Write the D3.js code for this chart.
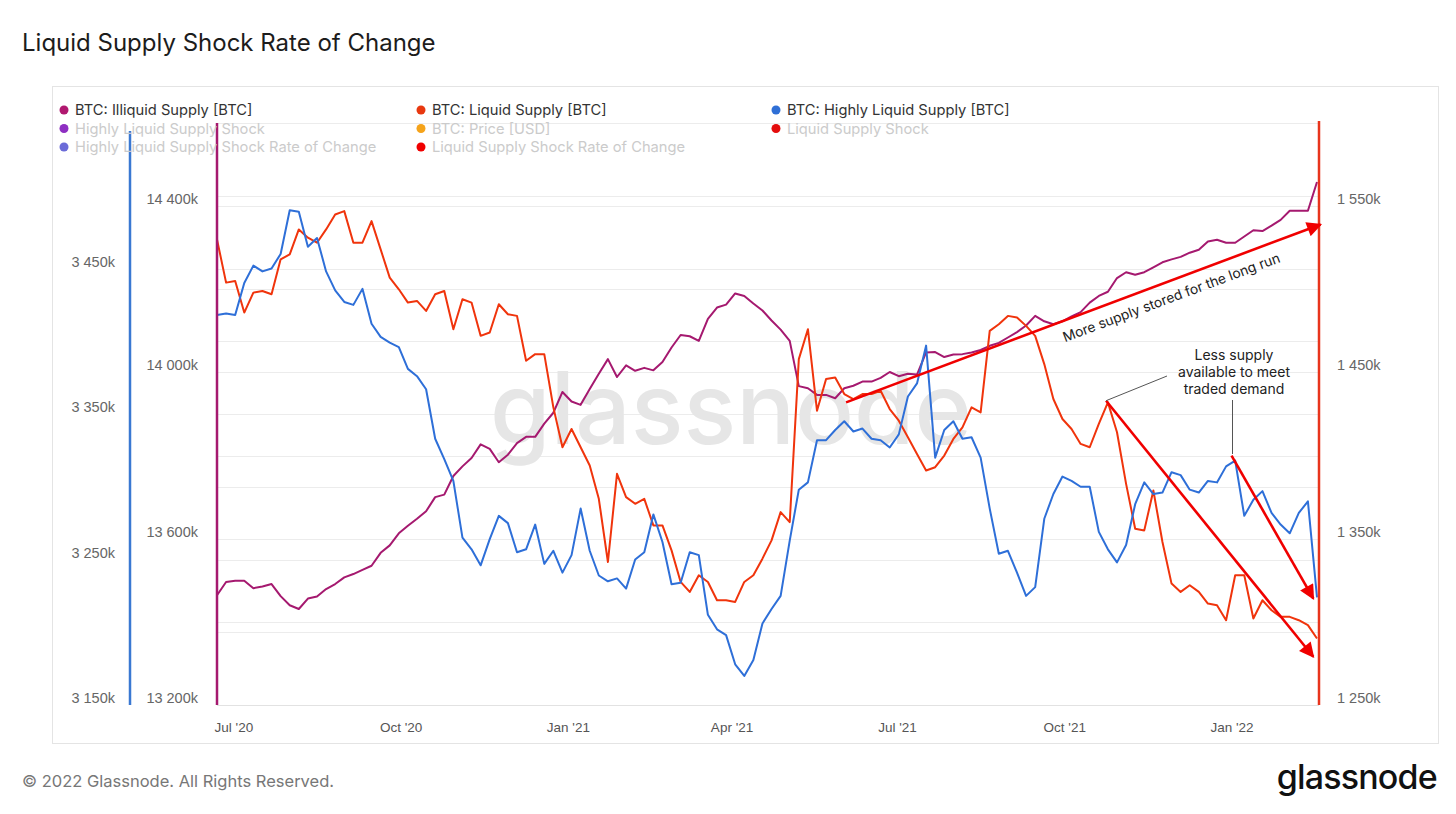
<!doctype html>
<html lang="en">
<head>
  <meta charset="utf-8">
  <title>Liquid Supply Shock Rate of Change</title>
  <script src="https://d3js.org/d3.v7.min.js"></script>
  <style>
    body { margin: 0; background: #fff; }
    svg { font-family: Inter, Roboto, "Noto Sans", sans-serif; }
  </style>
</head>
<body>
  <div id="chart"></div>
<script>
  const width = 1456;
  const height = 814;
  const plot = {left: 217, right: 1317, top: 123, bottom: 705};

  // data, one reading every 5 days starting 22 Jun 2020 (values in thousands of BTC)
  const startDate = new Date(2020, 5, 22);
  const stepDays = 5;

  const illiquid = [
    13464,13496,13499,13499,13481,13485,13491,13462,13440,13431,13456,13461,13479,13491,13507,13515,
    13525,13535,13566,13584,13613,13631,13648,13666,13700,13706,13751,13774,13794,13827,13816,
    13784,13802,13830,13845,13845,13877,13903,13953,13930,13922,13960,13997,14032,13989,14017,14004,
    14011,14005,14025,14060,14090,14087,14076,14129,14156,14163,14190,14184,14166,14149,
    14125,14103,14076,13967,13962,13946,13946,13938,13962,13968,13978,13978,13987,14001,13991,13997,
    13995,14048,14049,14037,14043,14044,14048,14054,14064,14071,14084,14097,14113,14136,
    14123,14116,14123,14135,14145,14168,14184,14194,14227,14241,14235,14241,14253,14265,14272,14278,
    14288,14295,14315,14319,14312,14312,14327,14342,14340,14353,14367,14389,14389,14389,14458
  ];
  const liquid = [
    1530,1504,1505,1486,1498,1499,1497,1518,1521,1536,1531,1528,1536,1545,1547,1528,
    1528,1541,1524,1507,1500,1492,1493,1487,1497,1499,1476,1494,1492,1472,1474,
    1491,1485,1484,1457,1461,1461,1429,1405,1416,1405,1394,1374,1336,1389,1375,1371,
    1374,1358,1358,1343,1324,1318,1328,1324,1313,1313,1312,1324,1328,1338,
    1349,1366,1360,1458,1476,1427,1446,1447,1437,1434,1437,1437,1439,1428,1421,1411,
    1401,1391,1393,1400,1410,1417,1429,1426,1475,1479,1484,1483,1478,1472,
    1455,1434,1422,1416,1407,1405,1419,1432,1414,1383,1356,1355,1379,1348,1323,1318,
    1322,1318,1311,1310,1301,1328,1328,1302,1313,1307,1303,1303,1301,1298,1290
  ];
  const highlyLiquid = [
    3418,3419,3418,3440,3452,3448,3450,3460,3490,3489,3465,3471,3448,3435,3427,3425,
    3436,3412,3403,3399,3396,3381,3376,3367,3333,3319,3304,3265,3257,3246,3264,
    3280,3275,3255,3257,3274,3247,3256,3241,3253,3285,3256,3239,3235,3237,3230,3250,
    3255,3281,3262,3233,3234,3255,3253,3212,3202,3198,3178,3170,3181,3206,
    3216,3225,3263,3298,3303,3332,3332,3339,3345,3338,3340,3333,3332,3327,3336,3362,
    3371,3397,3320,3339,3345,3333,3334,3320,3285,3254,3256,3241,3225,3231,
    3278,3295,3307,3304,3300,3300,3269,3257,3248,3260,3288,3303,3295,3296,3310,3308,
    3298,3296,3304,3303,3314,3318,3280,3291,3297,3282,3274,3268,3282,3290,3224
  ];
  const dates = illiquid.map((d, i) => d3.timeDay.offset(startDate, i * stepDays));

  // axis ticks
  const xTicks = ['2020-07-01', '2020-10-01', '2021-01-01', '2021-04-01', '2021-07-01', '2021-10-01', '2022-01-01'];
  const illiquidTicks = [13200, 13600, 14000, 14400];
  const liquidTicks = [1250, 1350, 1450, 1550];
  const highlyTicks = [3150, 3250, 3350, 3450];
  const illiquidGrid = [13400, 13600, 13800, 14000, 14200, 14400, 14600];
  const highlyGrid = [3200, 3250, 3300, 3350, 3400, 3450, 3500, 3550];

  // legend
  const legendRows = [
    [{label: 'BTC: Illiquid Supply [BTC]', color: '#b0186f', on: true},
     {label: 'BTC: Liquid Supply [BTC]', color: '#e8380f', on: true},
     {label: 'BTC: Highly Liquid Supply [BTC]', color: '#2f6fd6', on: true}],
    [{label: 'Highly Liquid Supply Shock', color: '#8e2fc2', on: false},
     {label: 'BTC: Price [USD]', color: '#f5a31a', on: false},
     {label: 'Liquid Supply Shock', color: '#e40d0d', on: false}],
    [{label: 'Highly Liquid Supply Shock Rate of Change', color: '#6b6bd8', on: false},
     {label: 'Liquid Supply Shock Rate of Change', color: '#f00000', on: false}]
  ];

  const colIlliquid = '#a5196f';
  const colLiquid = '#f0340c';
  const colHighly = '#2e6fd8';
  const colArrow = '#f00000';

  const x = d3.scaleTime()
    .domain([dates[0], dates[dates.length - 1]])
    .range([plot.left, plot.right]);
  const yIll = d3.scaleLinear().domain([13200, 14600]).range([plot.bottom, plot.top]);
  const yLiq = d3.scaleLinear().domain([1250, 1600]).range([plot.bottom, plot.top]);
  const yHigh = d3.scaleLinear().domain([3150, 3550]).range([plot.bottom, plot.top]);

  const fmtK = (v) => d3.format(',')(v).replace(/,/g, ' ') + 'k';

  const svg = d3.select('#chart').append('svg')
    .attr('width', width)
    .attr('height', height);

  svg.append('text')
    .attr('x', 22).attr('y', 51)
    .attr('font-size', 24).attr('fill', '#1c1c1c')
    .text('Liquid Supply Shock Rate of Change');

  svg.append('rect')
    .attr('x', 52.5).attr('y', 86.5)
    .attr('width', 1386).attr('height', 657)
    .attr('fill', 'none').attr('stroke', '#e4e4e4');

  // grid
  const grid = svg.append('g').attr('stroke', '#ececec').attr('stroke-width', 1);
  grid.selectAll('.gi').data(illiquidGrid).join('line')
    .attr('x1', plot.left).attr('x2', plot.right + 2)
    .attr('y1', (d) => Math.round(yIll(d)) + 0.5).attr('y2', (d) => Math.round(yIll(d)) + 0.5);
  grid.selectAll('.gh').data(highlyGrid).join('line')
    .attr('x1', plot.left).attr('x2', plot.right + 2)
    .attr('y1', (d) => Math.round(yHigh(d)) + 0.5).attr('y2', (d) => Math.round(yHigh(d)) + 0.5);

  // watermark
  svg.append('text')
    .attr('x', 490).attr('y', 444)
    .attr('font-size', 100).attr('font-weight', 500)
    .attr('textLength', 482).attr('lengthAdjust', 'spacingAndGlyphs')
    .attr('fill', '#e6e6e6')
    .text('glassnode');

  // x axis
  svg.append('line')
    .attr('x1', plot.left).attr('x2', plot.right + 2)
    .attr('y1', plot.bottom + 0.5).attr('y2', plot.bottom + 0.5)
    .attr('stroke', '#e2e2e2');
  const xAxis = svg.append('g')
    .attr('transform', 'translate(0,' + plot.bottom + ')')
    .call(d3.axisBottom(x)
      .tickValues(xTicks.map((s) => d3.timeParse('%Y-%m-%d')(s)))
      .tickFormat(d3.timeFormat("%b '%y"))
      .tickSize(0).tickPadding(17));
  xAxis.select('.domain').remove();
  xAxis.selectAll('text').attr('font-size', 13.5).attr('fill', '#555').attr('font-family', null);

  // y axes
  function styleAxis(g) {
    g.select('.domain').remove();
    g.selectAll('text')
      .attr('font-size', 14.5).attr('fill', '#666').attr('font-family', null)
      .attr('dy', -2.5);
  }
  svg.append('g').attr('transform', 'translate(130,0)')
    .call(d3.axisLeft(yHigh).tickValues(highlyTicks).tickFormat(fmtK).tickSize(0).tickPadding(15))
    .call(styleAxis);
  svg.append('g').attr('transform', 'translate(' + plot.left + ',0)')
    .call(d3.axisLeft(yIll).tickValues(illiquidTicks).tickFormat(fmtK).tickSize(0).tickPadding(19))
    .call(styleAxis);
  svg.append('g').attr('transform', 'translate(1319,0)')
    .call(d3.axisRight(yLiq).tickValues(liquidTicks).tickFormat(fmtK).tickSize(0).tickPadding(18))
    .call(styleAxis);

  // series
  const lineOf = (yScale) => d3.line()
    .x((d, i) => x(dates[i]))
    .y((d) => yScale(d))
    .curve(d3.curveLinear);

  [[illiquid, yIll, colIlliquid], [liquid, yLiq, colLiquid], [highlyLiquid, yHigh, colHighly]]
    .forEach(([data, yScale, color]) => {
      svg.append('path')
        .datum(data)
        .attr('fill', 'none')
        .attr('stroke', color)
        .attr('stroke-width', 2)
        .attr('stroke-linejoin', 'round')
        .attr('d', lineOf(yScale));
    });

  // coloured axis lines
  svg.append('line').attr('x1', 130).attr('x2', 130).attr('y1', 131).attr('y2', 705)
    .attr('stroke', '#3a78d2').attr('stroke-width', 2.5);
  svg.append('line').attr('x1', plot.left).attr('x2', plot.left).attr('y1', 123).attr('y2', 705)
    .attr('stroke', colIlliquid).attr('stroke-width', 2.5);
  svg.append('line').attr('x1', 1319).attr('x2', 1319).attr('y1', 121).attr('y2', 705)
    .attr('stroke', '#e8341c').attr('stroke-width', 2.5);

  // legend
  const legendX = [64, 421, 776];
  const legendY = [110, 128.5, 147];
  legendRows.forEach((row, r) => {
    row.forEach((item, c) => {
      svg.append('circle')
        .attr('cx', legendX[c]).attr('cy', legendY[r]).attr('r', 4.5)
        .attr('fill', item.color);
      svg.append('text')
        .attr('x', legendX[c] + 11).attr('y', legendY[r]).attr('dy', '0.35em')
        .attr('font-size', 14.7)
        .attr('fill', item.on ? '#333' : '#cbcbcb')
        .text(item.label);
    });
  });

  // annotations (anchored on the liquid supply scale)
  const parse = d3.timeParse('%Y-%m-%d');
  const arrows = [
    {from: ['2021-06-03', 1432], to: ['2022-02-19', 1539]},
    {from: ['2021-10-24', 1433], to: ['2022-02-15', 1279]},
    {from: ['2022-01-01', 1400], to: ['2022-02-15', 1314]}
  ];
  svg.append('defs').append('marker')
    .attr('id', 'head')
    .attr('viewBox', '0 0 10 10')
    .attr('refX', 9).attr('refY', 5)
    .attr('markerUnits', 'userSpaceOnUse')
    .attr('markerWidth', 17).attr('markerHeight', 15)
    .attr('orient', 'auto')
    .append('path').attr('d', 'M0,0 L10,5 L0,10 z').attr('fill', colArrow);

  arrows.forEach((a) => {
    svg.append('line')
      .attr('x1', x(parse(a.from[0]))).attr('y1', yLiq(a.from[1]))
      .attr('x2', x(parse(a.to[0]))).attr('y2', yLiq(a.to[1]))
      .attr('stroke', colArrow).attr('stroke-width', 2.6)
      .attr('marker-end', 'url(#head)');
  });

  svg.append('text')
    .attr('transform', 'translate(1173,302) rotate(-20.4)')
    .attr('text-anchor', 'middle')
    .attr('font-size', 13.8).attr('fill', '#222')
    .text('More supply stored for the long run');

  // leader lines for the second note
  svg.append('line')
    .attr('x1', x(parse('2021-10-24'))).attr('y1', yLiq(1433))
    .attr('x2', 1167).attr('y2', 376)
    .attr('stroke', '#555').attr('stroke-width', 1);
  svg.append('line')
    .attr('x1', 1232.5).attr('y1', 400)
    .attr('x2', 1232.5).attr('y2', 454)
    .attr('stroke', '#555').attr('stroke-width', 1);

  const note = svg.append('text')
    .attr('text-anchor', 'middle')
    .attr('font-size', 14).attr('fill', '#222');
  ['Less supply', 'available to meet', 'traded demand'].forEach((s, i) => {
    note.append('tspan').attr('x', 1234).attr('y', 360 + i * 17).text(s);
  });

  // footer
  svg.append('text')
    .attr('x', 22).attr('y', 787)
    .attr('font-size', 16.5).attr('fill', '#777')
    .text('\u00a9 2022 Glassnode. All Rights Reserved.');
  svg.append('text')
    .attr('x', 1437).attr('y', 789)
    .attr('text-anchor', 'end')
    .attr('font-size', 34).attr('font-weight', 500)
    .attr('letter-spacing', -0.8)
    .attr('fill', '#111')
    .text('glassnode');
</script>
</body>
</html>
